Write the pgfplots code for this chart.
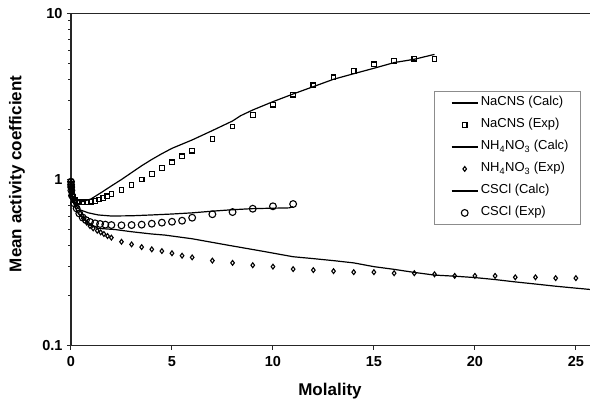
\documentclass[border=0pt]{standalone}
\usepackage{fontspec}
\setmainfont{Liberation Sans}
\usepackage{pgfplots}
\pgfplotsset{compat=1.18}
\begin{document}
\begin{tikzpicture}
\useasboundingbox (0pt,0pt) rectangle (590pt,405pt);
\begin{axis}[
  at={(71pt,59.3pt)}, anchor=south west,
  scale only axis, width=519pt, height=332.4pt,
  ymode=log, xmin=0, xmax=25.7, ymin=0.1, ymax=10,
  axis x line=bottom, axis y line=left,
  axis line style={-, line width=1.3pt, black!85},
  xtick={0,5,10,15,20,25},
  ytick={0.1,1,10}, yticklabels={0.1,1,10},
  minor ytick={}, 
  tick align=outside, major tick length=4pt,
  tick style={black!85, line width=1pt},
  /pgf/number format/assume math mode=true,
  ticklabel style={font=\fontsize{14.5}{15}\selectfont\bfseries},
  xticklabel style={yshift=-3pt},
  yticklabel style={xshift=-1pt},
  xlabel={Molality}, ylabel={Mean activity coefficient},
  label style={font=\fontsize{17}{18}\selectfont\bfseries},
  xlabel style={at={(axis description cs:0.499,-0.136)}, anchor=center},
  ylabel style={at={(axis description cs:-0.104,0.517)}, anchor=center, rotate=0},
  clip=false,
  legend style={at={(axis description cs:0.699,0.766)}, anchor=north west,
    draw=black!45, line width=0.7pt, fill=white,
    font=\fontsize{13}{14}\selectfont,
    inner xsep=9pt, inner ysep=4pt, row sep=7pt,
    nodes={inner xsep=2.5pt, inner ysep=1.5pt, text height=9pt, text depth=3pt}},
  legend cell align=left,
  calc/.style={black, line width=1.2pt, no marks,
    legend image code/.code={\path (0pt,0pt); \draw[##1] (8pt,0pt) -- (34pt,0pt);}},
  exp/.style={only marks, black, mark options={line width=1.1pt, fill=white},
    legend image code/.code={\path (0pt,0pt) (34pt,0pt); \draw[mark repeat=2,mark phase=2,##1] plot coordinates {(8pt,0pt) (21pt,0pt) (34pt,0pt)};}},
]
\draw[line width=1.2pt, black!85] (rel axis cs:0,1) -- (rel axis cs:1,1);

% NaCNS
\addplot[calc] coordinates {
(0.001,0.965) (0.02,0.88) (0.05,0.83) (0.1,0.79) (0.2,0.765) (0.4,0.745) (0.6,0.737)
(1.0,0.765) (1.5,0.835) (2.0,0.915) (2.5,1.0) (3.0,1.10) (3.5,1.21) (4.0,1.32)
(4.5,1.43) (5.0,1.54) (6.0,1.73) (7.0,1.97) (8.0,2.25) (8.4,2.42) (9.0,2.62)
(10,2.94) (11,3.27) (12,3.62) (13,4.01) (14,4.33) (15,4.67) (16,5.05) (17,5.29) (18,5.66)
};
\addlegendentry{NaCNS (Calc)}
\addplot[exp, mark=square, mark size=2.3pt] coordinates {
(0.001,0.965) (0.005,0.93) (0.01,0.905) (0.02,0.87) (0.05,0.82) (0.1,0.787) (0.2,0.75) (0.3,0.735)
(0.4,0.729) (0.6,0.729) (0.8,0.731) (1.0,0.735) (1.2,0.744) (1.4,0.757) (1.6,0.774) (1.8,0.792)
(2.0,0.818) (2.5,0.864) (3.0,0.925) (3.5,1.00) (4.0,1.08) (4.5,1.17) (5.0,1.27) (5.5,1.38)
(6.0,1.49) (7,1.75) (8,2.08) (9,2.44) (10,2.82) (11,3.24) (12,3.69) (13,4.12) (14,4.51)
(15,4.93) (16,5.16) (17,5.33) (18,5.30)
};
\addlegendentry{NaCNS (Exp)}

% NH4NO3
\addplot[calc] coordinates {
(0.001,0.965) (0.02,0.86) (0.05,0.79) (0.1,0.74) (0.2,0.68) (0.36,0.626) (0.69,0.57)
(1.0,0.535) (1.35,0.508) (2.18,0.50) (3.0,0.485) (4.0,0.47) (4.65,0.463) (6.0,0.44)
(7.7,0.404) (9.5,0.37) (11.0,0.343) (11.8,0.336) (13,0.325) (14,0.315) (15,0.299)
(16,0.288) (17,0.276) (18,0.266) (19,0.262) (20,0.257) (21,0.25) (22,0.242) (23,0.235)
(24,0.228) (25,0.222) (25.7,0.218)
};
\addlegendentry{NH\textsubscript{4}NO\textsubscript{3} (Calc)}
\addplot[exp, mark=diamond, mark size=2.4pt] coordinates {
(0.001,0.965) (0.005,0.93) (0.01,0.90) (0.02,0.87) (0.05,0.83) (0.15,0.75) (0.28,0.686)
(0.45,0.626) (0.61,0.585) (0.78,0.55) (0.94,0.525) (1.1,0.508) (1.3,0.492) (1.47,0.481)
(1.63,0.47) (1.81,0.457) (2.0,0.447) (2.5,0.422) (3.0,0.407) (3.5,0.392) (4.0,0.38)
(4.5,0.371) (5.0,0.36) (5.5,0.348) (6.0,0.34) (7,0.325) (8,0.315) (9,0.305) (10,0.299)
(11,0.289) (12,0.285) (13,0.281) (14,0.277) (15,0.277) (16,0.273) (17,0.273) (18,0.269)
(19,0.263) (20,0.263) (21,0.263) (22,0.258) (23,0.258) (24,0.255) (25,0.255)
};
\addlegendentry{NH\textsubscript{4}NO\textsubscript{3} (Exp)}

% CsCl
\addplot[calc] coordinates {
(0.001,0.965) (0.02,0.87) (0.05,0.80) (0.1,0.75) (0.2,0.70) (0.45,0.657) (0.86,0.63)
(1.35,0.612) (2.0,0.603) (3.0,0.605) (4.0,0.612) (5.0,0.62) (6.0,0.63) (7.0,0.645)
(8.0,0.658) (9.0,0.668) (10.0,0.672) (10.8,0.675) (11.0,0.686)
};
\addlegendentry{CSCl (Calc)}
\addplot[exp, mark=o, mark size=3.4pt] coordinates {
(0.001,0.97) (0.005,0.93) (0.01,0.90) (0.02,0.86) (0.05,0.80) (0.15,0.72) (0.28,0.67)
(0.41,0.625) (0.58,0.59) (0.74,0.57) (0.94,0.555) (1.19,0.545) (1.44,0.54) (1.7,0.535)
(2.0,0.532) (2.5,0.53) (3.0,0.532) (3.5,0.535) (4.0,0.542) (4.5,0.55) (5.0,0.557)
(5.5,0.565) (6.0,0.589) (7,0.618) (8,0.637) (9,0.667) (10,0.69) (11,0.712)
};
\addlegendentry{CSCl (Exp)}
\end{axis}
\end{tikzpicture}
\end{document}
